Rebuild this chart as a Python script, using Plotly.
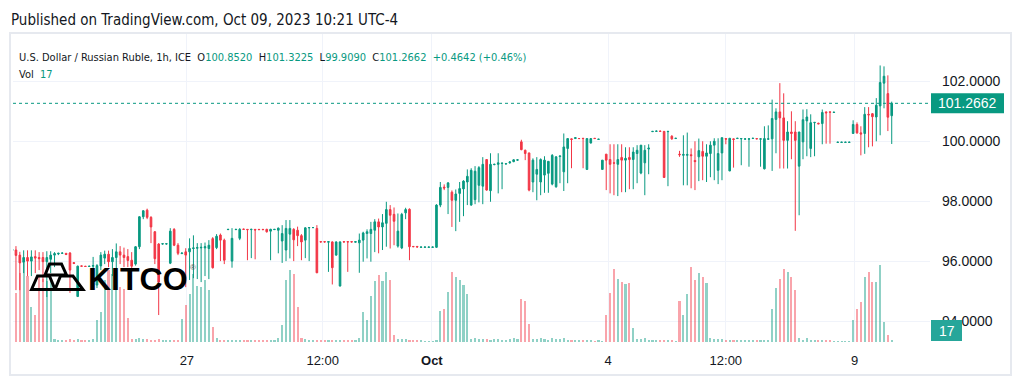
import plotly.graph_objects as go

# ---------------- data ----------------
open_prices = [
    96.35, 96.37, 96.20, 95.96, 96.12, 96.00, 96.15, 96.12, 96.12, 95.98,
    96.06, 96.20, 96.24, 96.26, 96.26, 96.27, 95.95, 94.82, 95.84, 95.83,
    95.82, 95.83, 95.20, 95.84, 96.10, 96.23, 95.98, 96.12, 96.31, 96.20,
    96.15, 96.03, 95.90, 96.48, 97.48, 97.70, 97.46, 96.98, 96.57, 96.57,
    96.57, 95.93, 97.06, 96.53, 96.25, 96.31, 96.31, 96.42, 96.43, 96.44,
    96.44, 96.42, 96.75, 96.45, 96.87, 96.70, 97.05, 96.00, 97.05, 96.76,
    97.07, 97.06, 97.05, 97.06, 97.06, 97.06, 97.06, 97.00, 97.05, 97.03,
    96.67, 96.37, 96.90, 97.06, 97.03, 96.85, 96.70, 97.11, 97.12, 97.09,
    96.65, 96.65, 96.63, 96.64, 96.20, 95.17, 96.65, 96.65, 96.65, 96.63,
    96.61, 96.70, 96.92, 96.92, 97.03, 97.31, 97.14, 97.26, 97.72, 97.56,
    96.50, 96.44, 97.61, 97.73, 96.49, 96.49, 96.46, 96.46, 96.46, 96.46,
    96.46, 97.87, 98.47, 98.46, 98.30, 98.03, 98.26, 98.41, 98.64, 97.87,
    98.05, 98.53, 98.50, 99.39, 98.35, 99.22, 99.23, 99.26, 99.24, 99.28,
    99.32, 99.37, 99.98, 99.70, 99.61, 98.64, 98.90, 98.64, 98.87, 98.93,
    98.57, 98.48, 99.49, 98.98, 99.76, 100.08, 100.09, 100.09, 100.10, 99.06,
    99.94, 100.10, 100.06, 99.06, 99.57, 99.39, 99.28, 99.23, 99.46, 99.37,
    99.46, 99.39, 99.59, 98.94, 99.28, 99.74, 100.32, 100.33, 100.34, 100.33,
    100.32, 100.17, 100.09, 99.57, 99.53, 99.53, 99.55, 99.36, 99.48, 99.66,
    99.50, 99.59, 99.87, 99.03, 99.61, 100.09, 99.01, 100.08, 100.09, 100.08,
    100.07, 100.07, 100.09, 100.09, 100.07, 99.08, 100.07, 100.08, 100.73, 100.98,
    100.78, 100.03, 100.31, 100.31, 99.17, 99.98, 100.68, 99.76, 100.62, 100.60,
    100.59, 100.98, 100.98, 100.96, 99.96, 99.96, 99.96, 99.96, 100.26, 100.56,
    100.28, 100.26, 100.90, 100.92, 100.81, 101.18, 101.94, 101.59, 100.852,
]
high_prices = [
    96.45, 96.50, 96.31, 96.36, 96.36, 96.36, 96.36, 96.30, 96.30, 96.33,
    96.33, 96.30, 96.28, 96.28, 96.27, 96.30, 95.96, 95.85, 95.85, 95.84,
    95.84, 96.14, 95.90, 96.30, 96.35, 96.35, 96.40, 96.59, 96.50, 96.45,
    96.40, 96.30, 96.50, 97.50, 97.70, 97.75, 97.50, 97.00, 96.60, 96.59,
    96.59, 97.10, 97.10, 96.60, 96.28, 96.43, 96.76, 96.86, 96.60, 96.60,
    96.62, 96.70, 96.80, 96.90, 96.92, 96.75, 97.07, 97.10, 97.07, 97.10,
    97.08, 97.07, 97.08, 97.07, 97.07, 97.07, 97.08, 97.08, 97.07, 97.12,
    97.20, 97.37, 97.37, 97.10, 97.15, 96.90, 97.13, 97.13, 97.13, 97.20,
    96.66, 96.66, 96.66, 96.66, 96.66, 96.66, 96.66, 96.66, 96.66, 96.66,
    96.92, 96.98, 97.06, 97.31, 97.40, 97.42, 97.57, 97.98, 97.87, 97.79,
    97.59, 97.61, 97.78, 97.76, 96.50, 96.50, 96.48, 96.48, 96.48, 96.48,
    97.90, 98.64, 98.56, 98.64, 98.36, 98.39, 98.64, 98.70, 99.06, 99.10,
    99.17, 99.17, 99.47, 99.40, 99.60, 99.25, 99.60, 99.28, 99.26, 99.33,
    99.40, 99.40, 100.05, 99.72, 99.62, 99.43, 99.47, 99.43, 99.50, 99.33,
    99.57, 99.50, 99.51, 100.26, 100.09, 100.09, 100.12, 100.10, 100.10, 100.09,
    100.09, 100.10, 100.08, 99.37, 99.57, 99.90, 99.90, 99.90, 99.90, 99.80,
    99.80, 99.80, 99.87, 99.87, 99.87, 99.90, 100.34, 100.35, 100.35, 100.34,
    100.34, 100.20, 100.11, 99.68, 100.20, 100.29, 99.76, 100.00, 100.09, 100.00,
    99.90, 100.00, 100.10, 100.10, 100.12, 100.10, 100.10, 100.09, 100.11, 100.10,
    100.09, 100.10, 100.11, 100.10, 100.09, 100.50, 100.53, 101.39, 101.10, 101.94,
    101.60, 100.67, 101.00, 100.67, 100.31, 101.06, 101.07, 100.90, 100.64, 100.62,
    101.06, 100.99, 100.99, 100.98, 99.98, 99.98, 99.98, 99.98, 100.70, 100.63,
    100.50, 101.14, 101.14, 100.94, 101.44, 102.53, 102.50, 102.20, 101.3225,
]
low_prices = [
    96.30, 95.03, 95.03, 95.60, 95.50, 95.50, 95.60, 95.70, 95.30, 94.80,
    95.60, 95.80, 96.20, 96.24, 96.20, 94.94, 95.90, 94.80, 95.82, 95.82,
    95.81, 95.47, 95.10, 95.70, 95.90, 95.80, 95.50, 95.60, 95.90, 95.80,
    95.80, 95.75, 95.85, 96.40, 97.40, 97.40, 96.60, 95.90, 94.20, 96.55,
    96.55, 95.90, 96.50, 96.20, 96.24, 95.13, 95.37, 95.43, 95.40, 95.30,
    95.50, 95.40, 95.75, 96.40, 96.00, 95.90, 97.04, 95.78, 97.04, 96.70,
    97.05, 96.03, 96.10, 96.06, 97.04, 97.04, 96.95, 96.03, 97.04, 96.26,
    95.94, 96.00, 96.09, 96.00, 96.50, 96.03, 96.10, 96.00, 97.10, 95.60,
    96.62, 96.62, 95.64, 95.22, 96.18, 95.15, 96.62, 95.64, 96.62, 96.62,
    95.61, 95.98, 96.09, 95.98, 96.30, 96.26, 96.37, 96.48, 96.42, 96.53,
    96.45, 96.40, 97.40, 96.03, 96.47, 96.46, 96.45, 96.45, 96.45, 96.45,
    96.44, 97.80, 98.37, 97.57, 97.14, 97.00, 97.31, 97.50, 97.87, 97.85,
    97.90, 97.96, 97.90, 98.35, 97.98, 99.20, 98.26, 98.40, 99.23, 99.25,
    99.30, 99.35, 99.70, 99.37, 98.33, 98.30, 98.03, 98.20, 98.28, 98.28,
    98.53, 98.45, 98.60, 98.34, 98.60, 99.10, 100.08, 100.08, 99.10, 99.05,
    99.93, 100.08, 100.05, 99.05, 98.37, 98.26, 98.20, 98.17, 98.30, 98.30,
    98.40, 98.40, 98.60, 98.90, 98.20, 98.90, 100.31, 100.32, 100.32, 98.79,
    98.50, 100.05, 100.08, 99.48, 98.53, 98.53, 98.43, 98.37, 98.67, 98.70,
    98.64, 98.80, 98.70, 98.57, 98.70, 99.90, 99.00, 99.12, 100.08, 99.20,
    100.06, 99.15, 100.08, 100.07, 99.15, 99.06, 100.05, 99.01, 99.60, 99.09,
    99.09, 99.09, 99.40, 97.01, 97.53, 99.40, 99.50, 99.47, 99.50, 100.58,
    99.90, 99.92, 99.92, 100.95, 99.95, 99.95, 99.95, 99.95, 100.26, 100.25,
    99.53, 99.58, 99.80, 99.83, 100.00, 100.20, 101.10, 100.34, 99.909,
]
close_prices = [
    96.40, 96.19, 95.94, 96.12, 96.00, 96.14, 96.10, 96.08, 95.98, 96.12,
    96.20, 96.25, 96.26, 96.27, 96.22, 95.70, 95.92, 95.83, 95.83, 95.82,
    95.83, 95.85, 95.85, 96.20, 96.23, 95.98, 96.12, 96.31, 96.20, 96.12,
    96.02, 95.83, 96.48, 97.48, 97.68, 97.46, 97.14, 96.08, 95.30, 96.58,
    96.58, 97.00, 96.53, 96.26, 96.27, 96.20, 96.42, 96.44, 96.45, 96.46,
    96.48, 96.53, 95.78, 96.83, 96.70, 96.03, 97.06, 96.76, 97.06, 97.06,
    97.06, 97.05, 97.06, 97.04, 97.05, 97.05, 96.98, 97.06, 97.06, 97.10,
    96.92, 97.09, 97.09, 96.71, 96.85, 96.64, 97.11, 97.12, 97.12, 95.61,
    96.64, 96.64, 96.65, 95.78, 96.64, 96.64, 96.64, 96.64, 96.64, 96.65,
    96.70, 96.94, 96.98, 97.06, 97.31, 97.14, 97.28, 97.72, 97.53, 97.33,
    97.00, 97.56, 97.72, 96.48, 96.48, 96.47, 96.47, 96.47, 96.47, 96.47,
    97.87, 98.46, 98.44, 98.61, 98.03, 98.24, 98.42, 98.67, 98.83, 99.03,
    99.00, 99.12, 99.23, 98.37, 99.23, 99.23, 99.28, 99.27, 99.25, 99.31,
    99.38, 99.38, 99.72, 99.59, 98.37, 99.37, 99.06, 99.39, 99.37, 99.33,
    99.53, 99.48, 99.51, 99.81, 100.09, 100.06, 100.12, 100.09, 100.09, 100.09,
    100.09, 100.09, 100.07, 99.37, 99.37, 99.23, 99.27, 99.39, 99.37, 99.43,
    99.39, 99.64, 99.70, 99.87, 99.70, 99.77, 100.33, 100.34, 100.33, 98.79,
    100.33, 100.08, 100.10, 99.55, 99.56, 99.56, 99.52, 99.32, 99.69, 99.50,
    99.61, 99.87, 100.00, 99.59, 100.12, 100.07, 100.10, 100.06, 100.10, 100.09,
    100.08, 100.08, 100.10, 100.08, 100.08, 100.09, 100.08, 100.76, 100.98, 100.78,
    100.03, 100.31, 100.26, 100.03, 100.31, 100.72, 100.81, 100.62, 100.63, 100.58,
    100.96, 100.95, 100.97, 100.97, 99.97, 99.97, 99.97, 99.97, 100.56, 100.28,
    100.24, 100.90, 100.88, 100.82, 101.20, 101.96, 102.17, 100.802, 101.2662,
]
volumes = [
    187, 417, 587, 672, 561, 298, 230, 561, 536, 519,
    519, 26, 20, 17, 17, 26, 17, 26, 17, 20,
    17, 26, 187, 255, 527, 612, 578, 553, 468, 451,
    204, 26, 26, 34, 26, 26, 20, 20, 26, 17,
    17, 20, 17, 17, 196, 315, 408, 578, 476, 468,
    527, 442, 128, 34, 17, 17, 17, 17, 17, 17,
    17, 17, 17, 17, 20, 17, 17, 20, 17, 34,
    145, 527, 612, 578, 298, 34, 26, 20, 17, 17,
    20, 17, 17, 17, 20, 20, 17, 17, 17, 20,
    34, 255, 187, 391, 519, 570, 519, 595, 527, 60,
    26, 26, 26, 20, 17, 17, 17, 12, 12, 12,
    17, 264, 281, 425, 595, 553, 527, 485, 408, 26,
    34, 26, 26, 26, 20, 26, 26, 20, 20, 26,
    34, 26, 366, 349, 153, 26, 26, 34, 26, 20,
    34, 26, 26, 34, 20, 17, 17, 17, 17, 17,
    17, 12, 17, 12, 230, 417, 621, 536, 510, 493,
    502, 119, 26, 26, 34, 20, 17, 17, 17, 17,
    17, 17, 12, 349, 230, 408, 638, 527, 587, 553,
    502, 34, 26, 26, 26, 20, 20, 20, 20, 17,
    17, 20, 17, 17, 17, 20, 20, 281, 459, 536,
    621, 595, 553, 442, 34, 20, 34, 20, 20, 17,
    20, 20, 17, 12, 12, 12, 12, 12, 187, 281,
    340, 553, 595, 510, 510, 655, 170, 60, 17,
]

tick_bars = [45.3, 80.5, 108.8, 154.5, 185.0, 218.4]
tick_labels = ["27", "12:00", "<b>Oct</b>", "4", "12:00", "9"]
price_ticks = [94, 96, 98, 100, 102]

title_text = "Published on TradingView.com, Oct 09, 2023 10:21 UTC-4"
symbol_text = "U.S. Dollar / Russian Ruble, 1h, ICE"

# ---------------- layout constants ----------------
W, H = 1024, 389
PL, PR, PT, PB = 13, 930, 34, 342          # plot area in pixels
BAR0_PX, BAR_STEP = 12.1, 3.858            # pixel of first bar, pixels per bar
PRICE_RANGE = [93.30, 103.58]
VOL_PER_PX = 8.5

UP, DOWN = "#089981", "#F23645"
TXT = "#131722"
GRID = "#f0f3fa"
NARROW = ("Noto Sans ExtraCondensed, Noto Sans Condensed, Liberation Sans Narrow, "
          "DejaVu Sans Condensed, sans-serif")
AXF = "Liberation Sans, Arial, sans-serif"


def fx(px):
    return (px - PL) / (PR - PL)


def fy(py):
    return (PB - py) / (PB - PT)


n = len(open_prices)
bars = list(range(n))
x_range = [(PL - BAR0_PX) / BAR_STEP, (PR - BAR0_PX) / BAR_STEP]
vol_colors = [
    "rgba(8,153,129,0.45)" if c >= o else "rgba(242,54,69,0.45)"
    for o, c in zip(open_prices, close_prices)
]

fig = go.Figure()
fig.add_trace(go.Bar(
    x=bars, y=volumes, marker=dict(color=vol_colors, line=dict(width=0)),
    width=0.55, yaxis="y", hoverinfo="skip", showlegend=False,
))
fig.add_trace(go.Candlestick(
    x=bars, open=open_prices, high=high_prices, low=low_prices, close=close_prices,
    yaxis="y2", whiskerwidth=0,
    increasing=dict(line=dict(color=UP, width=1), fillcolor=UP),
    decreasing=dict(line=dict(color=DOWN, width=1), fillcolor=DOWN),
    showlegend=False, hoverinfo="skip",
))

last_o, last_h, last_l, last_c = open_prices[-1], high_prices[-1], low_prices[-1], close_prices[-1]
chg = last_c - close_prices[-2]
pct = chg / close_prices[-2] * 100
sp = "\u00a0"


def teal(s):
    return f"<span style='color:{UP}'>{s}</span>"


legend1 = (f"{symbol_text}{sp}{sp}O{teal(f'{last_o:.4f}')}{sp}{sp}H{teal(f'{last_h:.4f}')}"
           f"{sp}{sp}L{teal(f'{last_l:.4f}')}{sp}{sp}C{teal(f'{last_c:.4f}')}"
           f"{sp}{sp}{teal(f'{chg:+.4f} ({pct:+.2f}%)')}")
legend2 = f"Vol{sp}{sp}{teal(str(volumes[-1]))}"

last_py = PB - (last_c - PRICE_RANGE[0]) / (PRICE_RANGE[1] - PRICE_RANGE[0]) * (PB - PT)

annotations = [
    dict(text=title_text, x=fx(9), y=fy(20), xref="paper", yref="paper", xanchor="left",
         yanchor="middle", showarrow=False, font=dict(family=NARROW, size=15, color=TXT)),
    dict(text=legend1, x=fx(17), y=fy(57), xref="paper", yref="paper", xanchor="left",
         yanchor="middle", showarrow=False, font=dict(family=NARROW, size=11, color=TXT)),
    dict(text=legend2, x=fx(17), y=fy(74), xref="paper", yref="paper", xanchor="left",
         yanchor="middle", showarrow=False, font=dict(family=NARROW, size=11, color=TXT)),
    dict(text=f"{last_c:.4f}", x=fx(968), y=last_c, xref="paper", yref="y2", xanchor="center",
         yanchor="middle", showarrow=False, font=dict(family=AXF, size=14, color="white")),
    dict(text=str(volumes[-1]), x=fx(946.5), y=fy(330.5), xref="paper", yref="paper",
         xanchor="center", yanchor="middle", showarrow=False,
         font=dict(family=AXF, size=14, color="white")),
    dict(text="<b>KITCO</b>", x=fx(86), y=fy(279), xref="paper", yref="paper", xanchor="left",
         yanchor="middle", showarrow=False,
         font=dict(family="Liberation Sans, Arial, sans-serif", size=32, color="black")),
    dict(text="®", x=fx(193), y=fy(267), xref="paper", yref="paper", xanchor="center",
         yanchor="middle", showarrow=False, font=dict(family=AXF, size=8, color="#555")),
]


def path_px(points):
    return "M " + " L ".join(f"{fx(px):.5f},{fy(py):.5f}" for px, py in points) + " Z"


shapes = [
    # chart frame
    dict(type="rect", xref="paper", yref="paper", x0=fx(10), x1=fx(1011), y0=fy(375), y1=fy(33),
         line=dict(color="#e6e9ef", width=2), fillcolor="rgba(0,0,0,0)", layer="below"),
    # last price dotted line
    dict(type="line", xref="paper", yref="y2", x0=0, x1=1, y0=last_c, y1=last_c,
         line=dict(color=UP, width=1, dash="dot")),
    # last price label box
    dict(type="rect", xref="paper", yref="paper", x0=fx(931), x1=fx(1004),
         y0=fy(last_py + 10), y1=fy(last_py - 10), fillcolor=UP, line=dict(width=0)),
    # volume label box
    dict(type="rect", xref="paper", yref="paper", x0=fx(931), x1=fx(962), y0=fy(341), y1=fy(320),
         fillcolor="#26a69a", line=dict(width=0)),
]
logo_line = dict(color="black", width=3)
for pts in (
    [(45, 275), (49.5, 264), (61.5, 264), (66.5, 275)],
    [(31.5, 289.5), (37.5, 276), (49.5, 276), (55, 289.5)],
    [(55, 289.5), (60.5, 276), (73, 276), (83, 289.5)],
):
    shapes.append(dict(type="path", xref="paper", yref="paper", path=path_px(pts), line=logo_line))

fig.update_layout(
    width=W, height=H,
    margin=dict(l=PL, r=W - PR, t=PT, b=H - PB, pad=0, autoexpand=False),
    paper_bgcolor="white", plot_bgcolor="white",
    showlegend=False, boxgap=0.4, bargap=0,
    annotations=annotations, shapes=shapes,
    xaxis=dict(range=x_range, tickmode="array", tickvals=tick_bars, ticktext=tick_labels,
               showgrid=True, gridcolor=GRID, gridwidth=1, zeroline=False, showline=False,
               ticks="", ticklabelstandoff=9, rangeslider=dict(visible=False),
               tickfont=dict(family=AXF, size=13, color=TXT), fixedrange=True),
    yaxis=dict(range=[0, VOL_PER_PX * (PB - PT)], visible=False, fixedrange=True),
    yaxis2=dict(range=PRICE_RANGE, overlaying="y", side="right", tickmode="array",
                tickvals=price_ticks, ticktext=[f"{v:.4f}" for v in price_ticks],
                showgrid=True, gridcolor=GRID, gridwidth=1, zeroline=False, showline=False,
                ticks="", ticklabelstandoff=11,
                tickfont=dict(family=AXF, size=14, color=TXT), fixedrange=True),
)

fig.write_html("out.html", config={"displayModeBar": False},
               post_script="document.body.style.margin='0px';document.body.style.overflow='hidden';")
